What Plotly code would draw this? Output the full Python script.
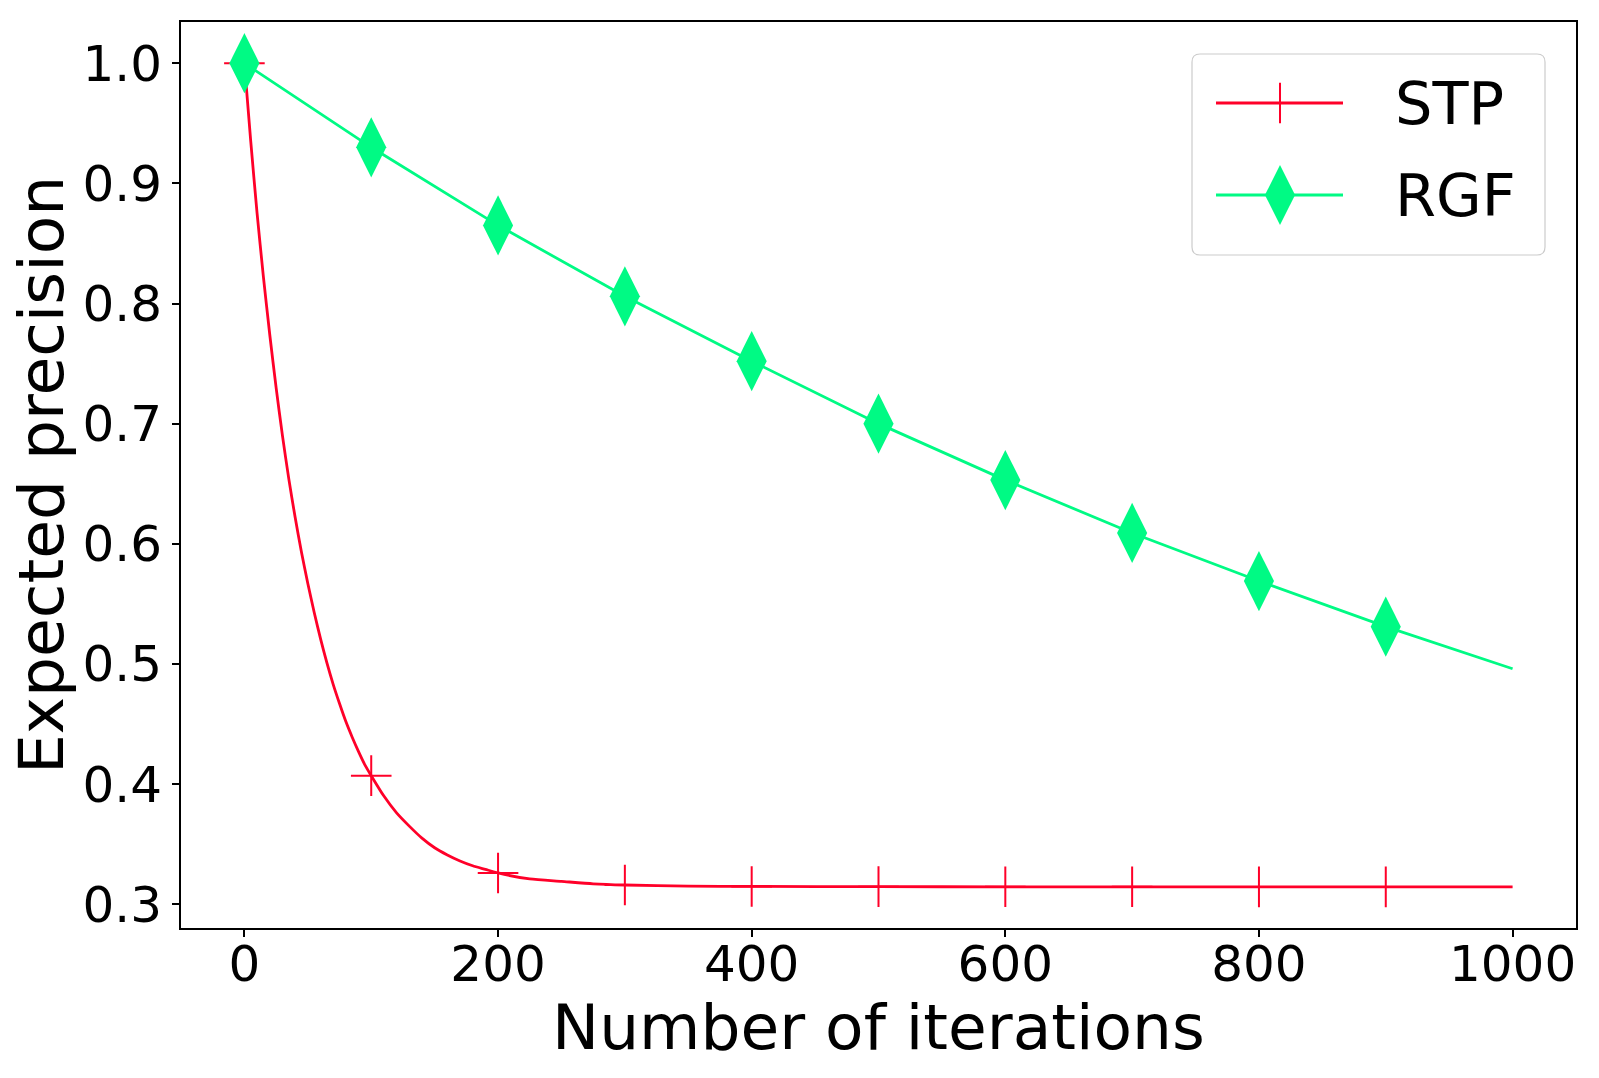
import plotly.graph_objects as go

# ---- data ----
stp_x = [0, 5, 10, 15, 20, 25, 30, 35, 40, 45, 50, 55, 60, 65, 70, 75, 80, 85, 90, 95,
         100, 110, 120, 130, 140, 150, 160, 170, 180, 190, 200, 225, 250, 275, 300,
         350, 400, 500, 600, 700, 800, 900, 1000]
stp_y = [1.000, 0.935, 0.875, 0.822, 0.774, 0.730, 0.690, 0.654, 0.622, 0.593, 0.567,
         0.543, 0.521, 0.501, 0.483, 0.467, 0.452, 0.439, 0.427, 0.416,
         0.407, 0.390, 0.376, 0.365, 0.355, 0.347, 0.341, 0.336, 0.332, 0.329, 0.326,
         0.321, 0.319, 0.317, 0.316, 0.315, 0.3148, 0.3146, 0.3145, 0.3145, 0.3144,
         0.3144, 0.3144]
rgf_x = [0, 100, 200, 300, 400, 500, 600, 700, 800, 900, 1000]
rgf_y = [1.000, 0.930, 0.865, 0.806, 0.752, 0.700, 0.653, 0.609, 0.569, 0.531, 0.496]
series_names = ["STP", "RGF"]
x_ticks = [0, 200, 400, 600, 800, 1000]
y_ticks = [0.3, 0.4, 0.5, 0.6, 0.7, 0.8, 0.9, 1.0]
x_title = "Number of iterations"
y_title = "Expected precision"

# ---- style ----
RED = "#ff0029"
GREEN = "#00fa84"
FONT = "DejaVu Sans"
W, H = 1599, 1078
L, R, T, B = 181, 23, 22, 150
PX0, PX1, PY0, PY1 = L, W - R, T, H - B  # plot area in pixels
LW = 2.8

mark_every = 100
stp_mx = [x for x in stp_x if x % mark_every == 0 and x < 1000]
stp_my = [y for x, y in zip(stp_x, stp_y) if x % mark_every == 0 and x < 1000]

fig = go.Figure()
fig.add_trace(go.Scatter(x=stp_x, y=stp_y, mode="lines", line=dict(color=RED, width=LW, shape="spline", smoothing=0.6),
                         showlegend=False, hoverinfo="skip"))
fig.add_trace(go.Scatter(x=stp_mx, y=stp_my, mode="markers", name=series_names[0], showlegend=False,
                         marker=dict(symbol="cross-thin", size=29, line=dict(color=RED, width=2))))
fig.add_trace(go.Scatter(x=rgf_x, y=rgf_y, mode="lines", line=dict(color=GREEN, width=LW),
                         showlegend=False, hoverinfo="skip"))
fig.add_trace(go.Scatter(x=rgf_x[:-1], y=rgf_y[:-1], mode="markers", name=series_names[1], showlegend=False,
                         marker=dict(symbol="diamond-tall", size=43, color=GREEN, line=dict(width=0))))

# ---- hand-made legend on an overlay pixel-space axis ----
leg_rows = [103, 195]
leg_line_x = [1216, 1343]
leg_mark_x = 1280
fig.add_trace(go.Scatter(x=leg_line_x, y=[leg_rows[0]] * 2, xaxis="x2", yaxis="y2", mode="lines",
                         line=dict(color=RED, width=LW), showlegend=False, hoverinfo="skip"))
fig.add_trace(go.Scatter(x=[leg_mark_x], y=[leg_rows[0]], xaxis="x2", yaxis="y2", mode="markers",
                         marker=dict(symbol="cross-thin", size=29, line=dict(color=RED, width=2)),
                         showlegend=False, hoverinfo="skip"))
fig.add_trace(go.Scatter(x=leg_line_x, y=[leg_rows[1]] * 2, xaxis="x2", yaxis="y2", mode="lines",
                         line=dict(color=GREEN, width=LW), showlegend=False, hoverinfo="skip"))
fig.add_trace(go.Scatter(x=[leg_mark_x], y=[leg_rows[1]], xaxis="x2", yaxis="y2", mode="markers",
                         marker=dict(symbol="diamond-tall", size=43, color=GREEN),
                         showlegend=False, hoverinfo="skip"))

bx0, bx1, by0, by1, rr = 1192, 1545, 54, 255, 8
box_path = (f"M {bx0+rr},{by0} L {bx1-rr},{by0} Q {bx1},{by0} {bx1},{by0+rr} "
            f"L {bx1},{by1-rr} Q {bx1},{by1} {bx1-rr},{by1} L {bx0+rr},{by1} "
            f"Q {bx0},{by1} {bx0},{by1-rr} L {bx0},{by0+rr} Q {bx0},{by0} {bx0+rr},{by0} Z")
fig.add_shape(type="path", path=box_path, xref="x2", yref="y2", layer="below",
              line=dict(color="#cccccc", width=1.2), fillcolor="rgba(255,255,255,0.8)")

annotations = []
for name, yy in zip(series_names, leg_rows):
    annotations.append(dict(x=1393, y=yy, xref="x2", yref="y2", text=name, showarrow=False,
                            xanchor="left", yanchor="middle", font=dict(family=FONT, size=59, color="black")))
annotations.append(dict(x=0.5, y=(PY1 - 1027) / (PY1 - PY0), xref="paper", yref="paper", text=x_title,
                        showarrow=False, xanchor="center", yanchor="middle",
                        font=dict(family=FONT, size=63, color="black")))
annotations.append(dict(x=(41 - PX0) / (PX1 - PX0), y=0.5, xref="paper", yref="paper", text=y_title,
                        showarrow=False, textangle=-90, xanchor="center", yanchor="middle",
                        font=dict(family=FONT, size=63, color="black")))

axis_common = dict(showgrid=False, zeroline=False, showline=True, linecolor="black", linewidth=2,
                   mirror=True, ticks="outside", ticklen=7, tickwidth=1.5, tickcolor="black",
                   tickfont=dict(family=FONT, size=50, color="black"))

fig.update_layout(
    width=W, height=H,
    margin=dict(l=L, r=R, t=T, b=B, pad=0),
    paper_bgcolor="white", plot_bgcolor="white",
    showlegend=False,
    xaxis=dict(range=[-50, 1050], tickvals=x_ticks, ticktext=[str(v) for v in x_ticks],
               ticklabelstandoff=-16, **axis_common),
    yaxis=dict(range=[0.2802, 1.0343], tickvals=y_ticks, ticktext=[f"{v:.1f}" for v in y_ticks],
               ticklabelstandoff=0, **axis_common),
    xaxis2=dict(overlaying="x", range=[PX0, PX1], visible=False, fixedrange=True),
    yaxis2=dict(overlaying="y", range=[PY1, PY0], visible=False, fixedrange=True),
    annotations=annotations,
)

fig.write_html("out.html")
